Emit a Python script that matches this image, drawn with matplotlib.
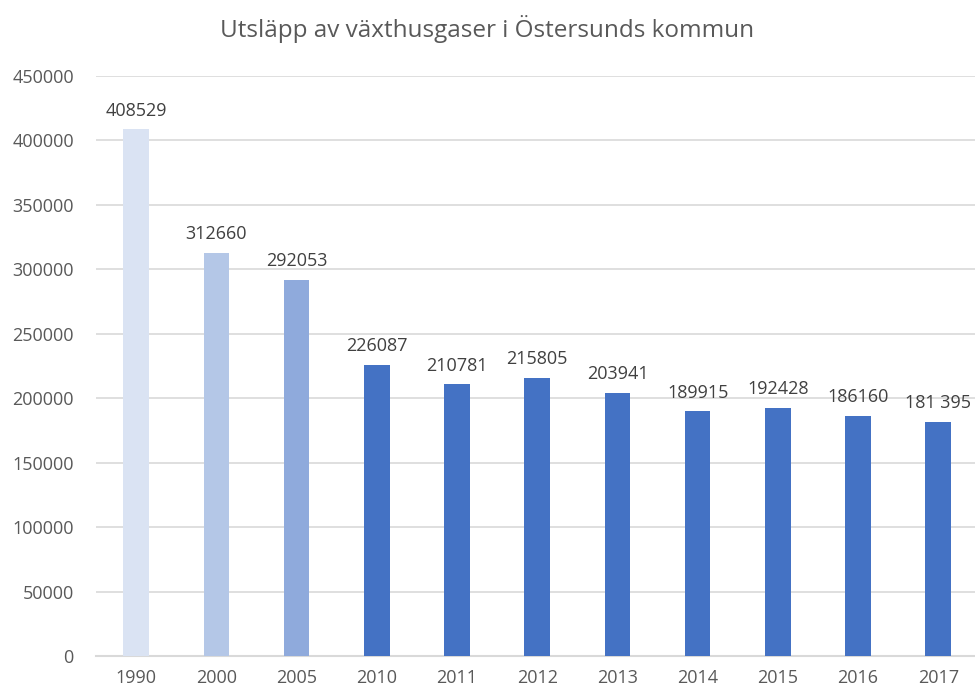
import matplotlib.pyplot as plt

years = ['1990', '2000', '2005', '2010', '2011', '2012', '2013', '2014', '2015', '2016', '2017']
values = [408529, 312660, 292053, 226087, 210781, 215805, 203941, 189915, 192428, 186160, 181395]
labels = ['408529', '312660', '292053', '226087', '210781', '215805', '203941',
          '189915', '192428', '186160', '181 395']
colors = ['#DAE3F3', '#B4C7E7', '#8FAADC'] + ['#4472C4'] * 8

plt.rcParams['font.family'] = ['Open Sans', 'DejaVu Sans']

fig = plt.figure(figsize=(9.75, 6.95), dpi=100)
ax = fig.add_axes([0.0985, 0.0561, 0.905, 0.8345])

x = range(len(years))
ax.bar(x, values, width=0.32, color=colors, zorder=3)

for i, v in enumerate(values):
    ax.annotate(labels[i], (i, v), xytext=(0, 7), textcoords='offset points',
                ha='center', va='bottom', fontsize=13, color='#404040')

ax.set_ylim(0, 450000)
ax.set_xlim(-0.5, len(years) - 0.5)
ax.set_yticks(range(0, 450001, 50000))
ax.set_xticks(list(x))
ax.set_xticklabels(years)
ax.tick_params(axis='both', length=0, labelsize=13, labelcolor='#595959')
ax.tick_params(axis='x', pad=9)
ax.tick_params(axis='y', pad=16)
ax.grid(axis='y', color='#D9D9D9', linewidth=1.2, zorder=0)

for s in ['top', 'right', 'left']:
    ax.spines[s].set_visible(False)
ax.spines['bottom'].set_color('#D9D9D9')
ax.spines['bottom'].set_linewidth(1.5)

fig.suptitle('Utsläpp av växthusgaser i Östersunds kommun', y=0.978,
             fontsize=17.5, color='#595959')

plt.savefig('out.png')
